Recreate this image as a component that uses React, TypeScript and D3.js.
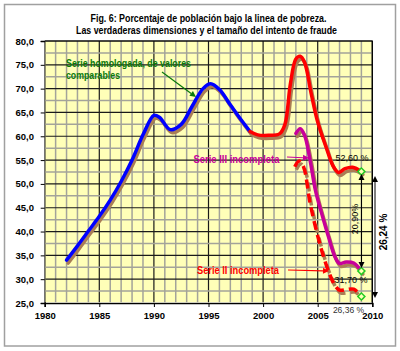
import React, { useRef, useEffect } from "react";
import * as d3 from "d3";

// chart values
const titleLines = [
  "Fig. 6: Porcentaje de población bajo la linea de pobreza.",
  "Las verdaderas dimensiones y el tamaño del intento de fraude",
];
const yTicks = [25, 30, 35, 40, 45, 50, 55, 60, 65, 70, 75, 80];
const xTicks = [1980, 1985, 1990, 1995, 2000, 2005, 2010];

// serie homologada (blue part)
const homologada: [number, number][] = [
  [1982, 34.0], [1983, 37.0], [1984, 40.1], [1985, 43.2], [1986, 46.6],
  [1987, 50.5], [1988, 55.0], [1989, 60.3], [1990, 64.4], [1990.5, 64.0],
  [1991.5, 61.4], [1992.5, 62.5], [1993.5, 66.3], [1994.5, 70.0], [1995.2, 71.0],
  [1996, 69.8], [1997, 66.6], [1998, 63.4], [1998.8, 61.0],
];
// continuation (red part)
const homologadaFin: [number, number][] = [
  [1998.8, 61.0], [1999.5, 60.3], [2000.5, 60.2], [2001.5, 60.5], [2002, 62.5],
  [2002.5, 71.0], [2003, 76.2], [2003.4, 76.8], [2003.8, 75.5], [2004.4, 69.0],
  [2005, 63.0], [2005.8, 57.5], [2006.4, 53.8], [2006.9, 52.4], [2007.5, 53.2],
  [2008.2, 53.5], [2009, 52.6],
];
const serieIII: [number, number][] = [
  [2003.0, 60.6], [2003.4, 61.6], [2003.8, 60.2], [2004.3, 55.0], [2004.8, 48.6],
  [2005.4, 43.5], [2006, 38.8], [2006.6, 34.6], [2007, 33.3], [2007.6, 33.6],
  [2008.3, 33.4], [2009, 31.7],
];
const serieII: [number, number][] = [
  [2002.9, 53.6], [2003.3, 54.8], [2003.7, 53.6], [2004.3, 46.0], [2004.9, 40.0],
  [2005.5, 35.0], [2006.1, 31.0], [2006.6, 28.6], [2007, 27.7], [2007.6, 27.8],
  [2008.3, 27.9], [2009, 26.36],
];
const endValues = [52.6, 31.7, 26.36];

const width = 400;
const height = 351;
const sans = "'Liberation Sans', Arial, sans-serif";

const Chart = () => {
  const svgRef = useRef<SVGSVGElement>(null);

  useEffect(() => {
    const svg = d3.select(svgRef.current);
    svg.selectAll("*").remove();

    const x = d3.scaleLinear().domain([1980, 2010]).range([44.7, 372.3]);
    const y = d3.scaleLinear().domain([25, 80]).range([303, 41]);
    const px0 = x(1980), px1 = x(2010), py0 = y(80), py1 = y(25);

    svg.append("rect").attr("x", 4.5).attr("y", 4.5).attr("width", 391).attr("height", 341.5)
      .attr("fill", "#ffffff").attr("stroke", "#a0a0a0").attr("stroke-width", 1.5);

    // title
    const tl = [
      { t: titleLines[0], cx: 208.5, y: 22, len: 236 },
      { t: titleLines[1], cx: 206.5, y: 34, len: 261 },
    ];
    svg.selectAll("text.title").data(tl).enter().append("text")
      .attr("class", "title")
      .attr("x", (d) => d.cx)
      .attr("y", (d) => d.y)
      .attr("text-anchor", "middle")
      .attr("textLength", (d) => d.len)
      .attr("lengthAdjust", "spacingAndGlyphs")
      .attr("font-family", sans).attr("font-weight", "bold").attr("font-size", 10.5)
      .text((d) => d.t);

    // axes
    svg.append("g")
      .attr("transform", `translate(0,${py1})`)
      .call(d3.axisBottom(x).tickValues(xTicks).tickSize(4).tickFormat((d) => String(d)))
      .call((g) => g.select(".domain").attr("stroke-width", 1.5))
      .call((g) => g.selectAll("text").attr("dy", "0.9em").attr("y", 7)
        .attr("font-family", sans).attr("font-weight", "bold").attr("font-size", 9.5).attr("fill", "#000"));
    svg.append("g")
      .attr("transform", `translate(${px0},0)`)
      .call(d3.axisLeft(y).tickValues(yTicks).tickSize(4)
        .tickFormat((d) => d3.format(".1f")(d as number).replace(".", ",")))
      .call((g) => g.select(".domain").attr("stroke-width", 1.5))
      .call((g) => g.selectAll("text").attr("x", -10.7)
        .attr("font-family", sans).attr("font-weight", "bold").attr("font-size", 9.5).attr("fill", "#000"));

    // plot area + grid (drawn after the axes, before the series)
    const plot = svg.append("g");
    plot.append("rect")
      .attr("x", px0 + 0.75).attr("y", py0).attr("width", px1 - px0 - 0.75).attr("height", py1 - py0 - 0.75)
      .attr("fill", "#ffffb8");
    plot.selectAll("line.gx").data(d3.range(1981, 2011, 1)).enter().append("line")
      .attr("x1", (d) => x(d)).attr("x2", (d) => x(d)).attr("y1", py0).attr("y2", py1 - 0.75)
      .attr("stroke", (d) => (d % 5 === 0 ? "#1a1a1a" : "#a3a39a"))
      .attr("stroke-width", (d) => (d % 5 === 0 ? 1.2 : 1.5));
    plot.selectAll("line.gy").data(d3.range(27.5, 80.1, 2.5)).enter().append("line")
      .attr("y1", (d) => y(d)).attr("y2", (d) => y(d)).attr("x1", px0 + 0.75).attr("x2", px1)
      .attr("stroke", (d) => (d % 5 === 0 ? "#1a1a1a" : "#a3a39a"))
      .attr("stroke-width", (d) => (d % 5 === 0 ? 1.2 : 1.5));

    // series with shadow
    const line = d3.line<[number, number]>()
      .x((d) => x(d[0])).y((d) => y(d[1]))
      .curve(d3.curveCatmullRom.alpha(0.5));
    const series = [
      { d: homologada, c: "#0000ff", dash: null },
      { d: homologadaFin, c: "#ff0000", dash: null },
      { d: serieIII, c: "#c8009a", dash: null },
      { d: serieII, c: "#ff0000", dash: "9,5" },
    ];
    series.forEach((s) => {
      svg.append("path")
        .attr("d", line(s.d.map((p) => [p[0] + 0.14, p[1] - 0.63] as [number, number])))
        .attr("fill", "none").attr("stroke", "#aa7d55").attr("stroke-width", 3.5)
        .attr("stroke-dasharray", s.dash)
        .attr("stroke-linecap", s.dash ? "butt" : "round");
    });
    series.forEach((s) => {
      svg.append("path")
        .attr("d", line(s.d))
        .attr("fill", "none").attr("stroke", s.c).attr("stroke-width", 3.5)
        .attr("stroke-dasharray", s.dash)
        .attr("stroke-linecap", s.dash ? "butt" : "round");
    });

    // end markers
    svg.selectAll("rect.mk").data(endValues).enter().append("rect")
      .attr("x", x(2009) - 2.5).attr("y", (d) => y(d) - 2.5)
      .attr("width", 5).attr("height", 5)
      .attr("transform", (d) => `rotate(45 ${x(2009)} ${y(d)})`)
      .attr("fill", "#ffffb8").attr("stroke", "#22cc22").attr("stroke-width", 1.5);

    // arrows
    const arrow = (ax1, ay1, ax2, ay2, color, head = 6, w = 1.2) => {
      const a = Math.atan2(ay2 - ay1, ax2 - ax1);
      const hw = head * 0.5;
      const bx = ax2 - head * Math.cos(a);
      const by = ay2 - head * Math.sin(a);
      svg.append("line").attr("x1", ax1).attr("y1", ay1).attr("x2", bx).attr("y2", by)
        .attr("stroke", color).attr("stroke-width", w);
      svg.append("polygon")
        .attr("points", [
          [ax2, ay2],
          [bx + hw * Math.sin(a), by - hw * Math.cos(a)],
          [bx - hw * Math.sin(a), by + hw * Math.cos(a)],
        ].map((q) => q.join(",")).join(" "))
        .attr("fill", color);
    };
    const label = (t, lx, ly, len, color) =>
      svg.append("text").attr("x", lx).attr("y", ly)
        .attr("textLength", len).attr("lengthAdjust", "spacingAndGlyphs")
        .attr("font-family", sans).attr("font-weight", "bold").attr("font-size", 10)
        .attr("fill", color).text(t);

    label("Serie homologada, de valores", 66, 67, 125, "#0a7a0a");
    label("comparables", 66, 79, 54, "#0a7a0a");
    arrow(162, 72, 196, 97, "#0a7a0a");

    label("Serie III incompleta", 193.5, 163, 86, "#c8009a");
    arrow(287, 157, 309, 158, "#c8009a");

    label("Serie II incompleta", 197, 274, 82, "#ff0000");
    arrow(288, 270, 329, 271, "#ff0000");

    const small = (t, cx, cy, color, fs = 9) =>
      svg.append("text").attr("x", cx).attr("y", cy).attr("text-anchor", "middle")
        .attr("font-family", sans).attr("font-size", fs).attr("fill", color).text(t);
    small("52,60 %", 352, 161, "#000");
    small("31,70 %", 351, 283, "#000");
    small("26,36 %", 348.5, 313, "#333", 8.5);

    arrow(361.5, 222, 361.5, 174, "#000", 6, 1);
    arrow(361.5, 222, 361.5, 268, "#000", 6, 1);
    svg.append("text").attr("transform", "translate(358,219) rotate(-90)")
      .attr("text-anchor", "middle").attr("font-family", sans).attr("font-size", 9)
      .text("20,90%");
    arrow(375, 236, 375, 176, "#000", 6, 1);
    arrow(375, 236, 375, 298, "#000", 6, 1);
    svg.append("text").attr("transform", "translate(387,232) rotate(-90)")
      .attr("text-anchor", "middle").attr("font-family", sans).attr("font-weight", "bold")
      .attr("font-size", 10).text("26,24 %");

    // top and right border of the plot
    svg.append("path").attr("d", `M${px0},${py0}H${px1}V${py1}`)
      .attr("fill", "none").attr("stroke", "#000").attr("stroke-width", 1.2);
  }, []);

  return (
    <svg
      ref={svgRef}
      width={width}
      height={height}
      style={{ position: "absolute", left: 0, top: 0, display: "block" }}
    />
  );
};

export default function App() {
  return <Chart />;
}
